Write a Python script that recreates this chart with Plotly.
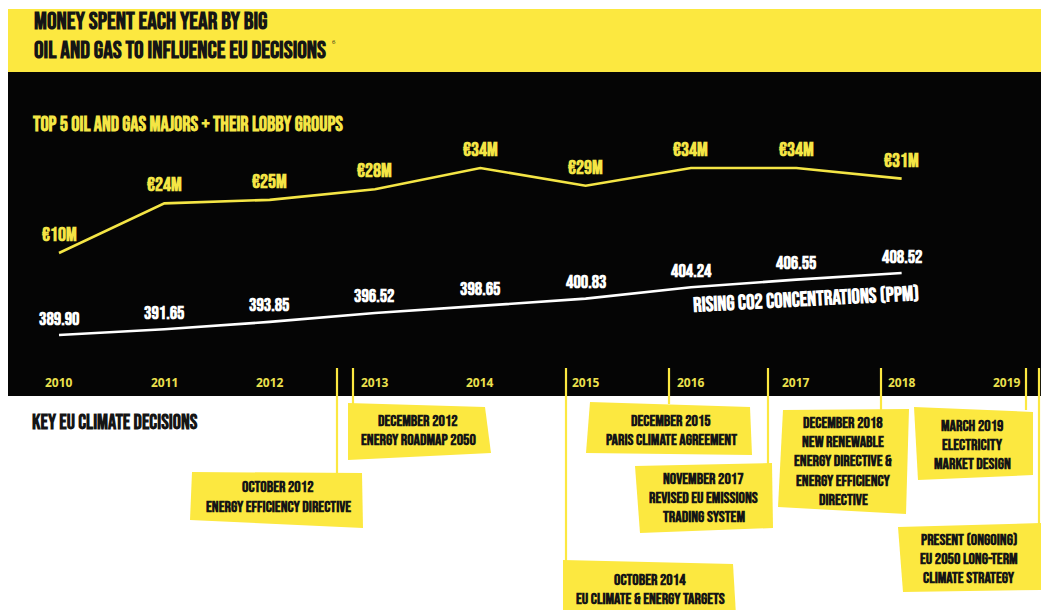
import plotly.graph_objects as go

# ---- data -------------------------------------------------------------
years = [2010, 2011, 2012, 2013, 2014, 2015, 2016, 2017, 2018]
spend_meur = [10, 24, 25, 28, 34, 29, 34, 34, 31]          # lobby spend, EUR million
co2_ppm = [389.90, 391.65, 393.85, 396.52, 398.65, 400.83, 404.24, 406.55, 408.52]
year_ticks = [2010, 2011, 2012, 2013, 2014, 2015, 2016, 2017, 2018, 2019]

title_lines = ["MONEY SPENT EACH YEAR BY BIG", "OIL AND GAS TO INFLUENCE EU DECISIONS"]
subtitle = "TOP 5 OIL AND GAS MAJORS + THEIR LOBBY GROUPS"
co2_caption = "RISING CO2 CONCENTRATIONS (PPM)"
decisions_heading = "KEY EU CLIMATE DECISIONS"

decisions = [
    ["OCTOBER 2012", "ENERGY EFFICIENCY DIRECTIVE"],
    ["DECEMBER 2012", "ENERGY ROADMAP 2050"],
    ["OCTOBER 2014", "EU CLIMATE & ENERGY TARGETS"],
    ["DECEMBER 2015", "PARIS CLIMATE AGREEMENT"],
    ["NOVEMBER 2017", "REVISED EU EMISSIONS", "TRADING SYSTEM"],
    ["DECEMBER 2018", "NEW RENEWABLE", "ENERGY DIRECTIVE &", "ENERGY EFFICIENCY", "DIRECTIVE"],
    ["MARCH 2019", "ELECTRICITY", "MARKET DESIGN"],
    ["PRESENT (ONGOING)", "EU 2050 LONG-TERM", "CLIMATE STRATEGY"],
]

# ---- page geometry (pixels, origin top-left) --------------------------
W, H = 1041, 610
YELLOW = "#FCE840"
LINE_YELLOW = "#F4E545"
TICK_YELLOW = "#ECE04E"
INK = "#151515"
DISPLAY = "Bebas Neue, Oswald, Roboto Condensed, sans-serif"
CARD_FONT = 16
CARD_STEP = 19.4

# callout layout: marker x, marker bottom, card corners (TL, TR, BR, BL),
# text centre x, first text line y, line step
callout_layout = [
    dict(mx=337, my=473, box=[(192, 472), (362, 473), (363, 528), (190, 520)], tx=278, ty=487, step=20),
    dict(mx=353, my=404, box=[(348, 403), (485, 407), (491, 453), (348, 460)], tx=418, ty=421, step=CARD_STEP),
    dict(mx=566, my=561, box=[(563, 560), (733, 564), (736, 615), (563, 615)], tx=650, ty=580, step=CARD_STEP),
    dict(mx=669, my=404, box=[(590, 402), (750, 407), (752, 455), (586, 453)], tx=671, ty=421, step=CARD_STEP),
    dict(mx=768, my=464, box=[(635, 466), (772, 463), (773, 528), (640, 533)], tx=703, ty=479, step=CARD_STEP),
    dict(mx=881, my=410, box=[(783, 410), (909, 409), (906, 514), (778, 507)], tx=843, ty=423, step=CARD_STEP),
    dict(mx=1026, my=410, box=[(914, 407), (1033, 412), (1033, 475), (918, 480)], tx=972, ty=426, step=CARD_STEP),
    dict(mx=1039, my=525, box=[(898, 527), (1041, 523), (1041, 590), (903, 592)], tx=969, ty=540, step=CARD_STEP),
]


def px(x):
    return x / W


def py(y):
    return 1 - y / H


# axis ranges chosen so the plot area spans the whole page
X_RANGE = [2009.4399, 2019.3231]
Y_SPEND = [-90.80, 81.42]
Y_CO2 = [307.33, 490.51]

fig = go.Figure()

fig.add_trace(go.Scatter(
    x=years, y=spend_meur, mode="lines", yaxis="y",
    line=dict(color=LINE_YELLOW, width=2.6), hoverinfo="skip", showlegend=False,
))
fig.add_trace(go.Scatter(
    x=years, y=co2_ppm, mode="lines", yaxis="y2",
    line=dict(color="white", width=2.6), hoverinfo="skip", showlegend=False,
))

shapes = [
    dict(type="rect", xref="paper", yref="paper", x0=px(8), x1=px(W), y0=py(72), y1=py(9),
         fillcolor=YELLOW, line_width=0, layer="below"),
    dict(type="rect", xref="paper", yref="paper", x0=px(8), x1=px(W), y0=py(396), y1=py(72),
         fillcolor="#050505", line_width=0, layer="below"),
]
annotations = []

# title block
for i, line in enumerate(title_lines):
    annotations.append(dict(
        xref="paper", yref="paper", x=px(32), y=py(21.5 + 29 * i), xanchor="left", yanchor="middle",
        text=line, showarrow=False, font=dict(family=DISPLAY, size=24, color=INK, weight="bold"),
    ))
annotations.append(dict(
    xref="paper", yref="paper", x=px(330), y=py(42), xanchor="left", yanchor="middle",
    text="6", showarrow=False, font=dict(family="Open Sans, sans-serif", size=6, color=INK),
))
annotations.append(dict(
    xref="paper", yref="paper", x=px(30), y=py(125), xanchor="left", yanchor="middle",
    text=subtitle, showarrow=False, font=dict(family=DISPLAY, size=20.5, color=LINE_YELLOW, weight="bold"),
))

# value labels above each line
for yr, v in zip(years, spend_meur):
    annotations.append(dict(
        x=yr, y=v, xref="x", yref="y", yshift=18, yanchor="middle", xanchor="center",
        text=f"€{v}M", showarrow=False, font=dict(family=DISPLAY, size=20, color=LINE_YELLOW, weight="bold"),
    ))
for yr, v in zip(years, co2_ppm):
    annotations.append(dict(
        x=yr, y=v, xref="x", yref="y2", yshift=16, yanchor="middle", xanchor="center",
        text=f"{v:.2f}", showarrow=False, font=dict(family=DISPLAY, size=18.5, color="white", weight="bold"),
    ))
annotations.append(dict(
    xref="paper", yref="paper", x=px(806), y=py(299), xanchor="center", yanchor="middle",
    text=co2_caption, textangle=-3, showarrow=False,
    font=dict(family=DISPLAY, size=21, color="white", weight="bold"),
))

# year ticks along the bottom of the dark panel
for yr in year_ticks:
    annotations.append(dict(
        x=yr, xref="x", yref="paper", y=py(382), xanchor="center", yanchor="middle",
        text=str(yr), showarrow=False,
        font=dict(family="Open Sans, sans-serif", size=12, color=TICK_YELLOW, weight="bold"),
    ))

annotations.append(dict(
    xref="paper", yref="paper", x=px(30), y=py(423), xanchor="left", yanchor="middle",
    text=decisions_heading, showarrow=False, font=dict(family=DISPLAY, size=20.5, color=INK, weight="bold"),
))

# decision callouts: connector line, tilted yellow card, text lines
for lines, lay in zip(decisions, callout_layout):
    shapes.append(dict(
        type="line", xref="paper", yref="paper", x0=px(lay["mx"]), x1=px(lay["mx"]),
        y0=py(368), y1=py(lay["my"]), line=dict(color=YELLOW, width=2.2),
    ))
    pts = lay["box"]
    path = "M " + " L ".join(f"{px(x):.5f},{py(y):.5f}" for x, y in pts) + " Z"
    shapes.append(dict(type="path", xref="paper", yref="paper", path=path,
                       fillcolor=YELLOW, line_width=0))
    for k, line in enumerate(lines):
        annotations.append(dict(
            xref="paper", yref="paper", x=px(lay["tx"]), y=py(lay["ty"] + k * lay["step"]),
            xanchor="center", yanchor="middle", text=line, showarrow=False,
            font=dict(family=DISPLAY, size=CARD_FONT, color=INK, weight="bold"),
        ))

fig.update_layout(
    width=W, height=H, margin=dict(l=0, r=0, t=0, b=0, pad=0),
    paper_bgcolor="white", plot_bgcolor="rgba(0,0,0,0)",
    xaxis=dict(range=X_RANGE, visible=False, fixedrange=True),
    yaxis=dict(range=Y_SPEND, visible=False, fixedrange=True),
    yaxis2=dict(range=Y_CO2, visible=False, overlaying="y", fixedrange=True),
    shapes=shapes, annotations=annotations, showlegend=False,
)

fig.write_html("out.html")
